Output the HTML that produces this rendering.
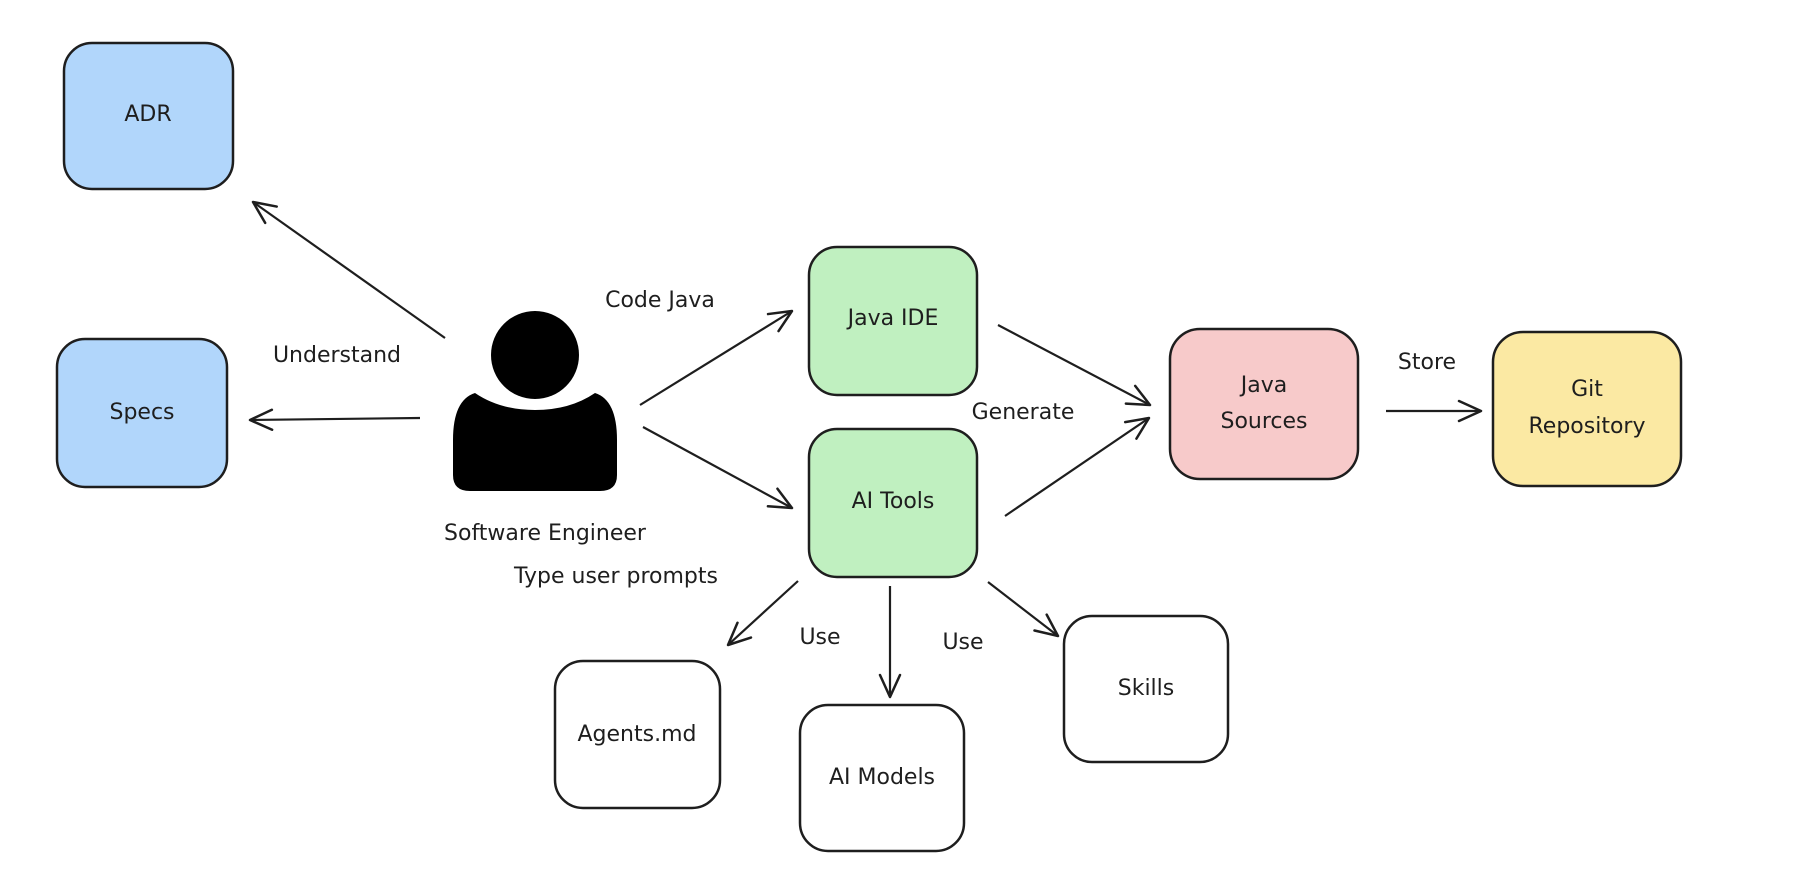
<!DOCTYPE html>
<html><head><meta charset="utf-8"><style>
html,body{margin:0;padding:0;background:#fff}
svg text{font-family:"DejaVu Sans","Liberation Sans",sans-serif;font-size:22px;fill:#1e1e1e;text-anchor:middle;dominant-baseline:middle}
</style></head><body>
<svg width="1804" height="888" viewBox="0 0 1804 888" xmlns="http://www.w3.org/2000/svg">
<defs>
<marker id="a" markerWidth="30" markerHeight="30" refX="24" refY="12" orient="auto" markerUnits="userSpaceOnUse">
<path d="M2,2 L24,12 L2,22" fill="none" stroke="#1e1e1e" stroke-width="2.5" stroke-linecap="round" stroke-linejoin="round"/>
</marker>
</defs>
<g stroke="#1e1e1e" stroke-width="2.5">
<rect x="64" y="43" width="169" height="146" rx="28" fill="#b1d6fb"/>
<rect x="57" y="339" width="170" height="148" rx="28" fill="#b1d6fb"/>
<rect x="809" y="247" width="168" height="148" rx="28" fill="#c0f0c0"/>
<rect x="809" y="429" width="168" height="148" rx="28" fill="#c0f0c0"/>
<rect x="1170" y="329" width="188" height="150" rx="30" fill="#f7caca"/>
<rect x="1493" y="332" width="188" height="154" rx="30" fill="#fbe9a3"/>
<rect x="1064" y="616" width="164" height="146" rx="28" fill="#fff"/>
<rect x="800" y="705" width="164" height="146" rx="28" fill="#fff"/>
<rect x="555" y="661" width="165" height="147" rx="28" fill="#fff"/>
</g>
<g fill="#000">
<circle cx="535" cy="355" r="44"/>
<path d="M475,393 Q500,410 535,410 Q570,410 595,393 Q617,400 617,440 L617,475 Q617,491 600,491 L470,491 Q453,491 453,475 L453,440 Q453,400 475,393 Z"/>
</g>
<g stroke="#1e1e1e" stroke-width="2.2" fill="none" marker-end="url(#a)">
<line x1="445" y1="338" x2="253" y2="202"/>
<line x1="420" y1="418" x2="250" y2="420"/>
<line x1="640" y1="405" x2="792" y2="311"/>
<line x1="643" y1="427" x2="792" y2="508"/>
<line x1="998" y1="325" x2="1150" y2="405"/>
<line x1="1005" y1="516" x2="1149" y2="418"/>
<line x1="1386" y1="411" x2="1481" y2="411"/>
<line x1="798" y1="581" x2="728" y2="645"/>
<line x1="890" y1="586" x2="890" y2="697"/>
<line x1="988" y1="582" x2="1058" y2="636"/>
</g>
<text x="148" y="115">ADR</text>
<text x="142" y="413">Specs</text>
<text x="893" y="319">Java IDE</text>
<text x="893" y="502">AI Tools</text>
<text x="1264" y="386">Java</text>
<text x="1264" y="422">Sources</text>
<text x="1587" y="390">Git</text>
<text x="1587" y="427">Repository</text>
<text x="1146" y="689">Skills</text>
<text x="882" y="778">AI Models</text>
<text x="637" y="735">Agents.md</text>
<text x="337" y="356">Understand</text>
<text x="660" y="301">Code Java</text>
<text x="545" y="534">Software Engineer</text>
<text x="616" y="577">Type user prompts</text>
<text x="820" y="638">Use</text>
<text x="963" y="643">Use</text>
<text x="1023" y="413">Generate</text>
<text x="1427" y="363">Store</text>
</svg>
</body></html>
